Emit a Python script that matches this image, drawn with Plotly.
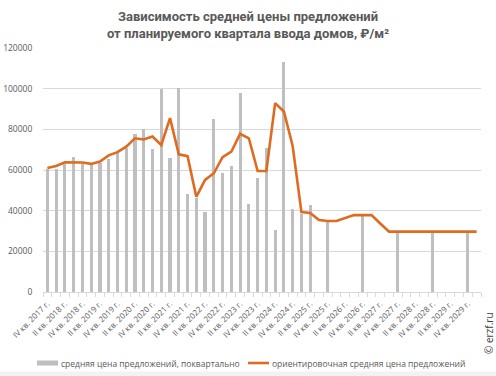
import plotly.graph_objects as go

roman = ["I", "II", "III", "IV"]
quarters = ["IV кв. 2017 г."]
for yr in range(2018, 2031):
    for q in roman:
        quarters.append(f"{q} кв. {yr} г.")
quarters = quarters[:50]  # IV 2017 .. I 2030

bar_values = [60500, 60500, 63000, 66600, 62800, 62400, 63500, 65600, 68200, 70700,
              77600, 80200, 70200, 99800, 65800, 100300, 48200, 46400, 39400, 85200,
              58700, 62100, 98100, 43200, 55900, 70900, 30300, 113000, 40600, 38300,
              42700, None, 34500, None, None, None, 37700, None, None, None,
              29100, None, None, None, 29100, None, None, None, 29100, None]

line_values = [61000, 62000, 63800, 63800, 63700, 63000, 64200, 67200, 68800, 71500,
               75600, 75000, 76500, 72300, 85500, 67700, 66800, 46800, 55100, 58400,
               66300, 69000, 77800, 75600, 59500, 59500, 92900, 88800, 71800, 39300,
               38900, 35400, 34900, 34900, 36200, 37800, 37800, 37800, 33700, 29700,
               29700, 29700, 29700, 29700, 29700, 29700, 29700, 29700, 29700, 29700]

tick_labels = quarters[0:49:2]
bar_name = "средняя цена предложений, поквартально"
line_name = "ориентировочная средняя цена предложений"

idx = list(range(len(quarters)))

BAR_COLOR = "#BFBFBF"
LINE_COLOR = "#DE6B1F"
grey = "#595959"

W_FIG, H_FIG = 496, 376
L, R, T, B = 43, 15, 48, 84
PW, PH = W_FIG - L - R, H_FIG - T - B


def px_x(p):
    return (p - L) / PW


def px_y(p):
    return (H_FIG - B - p) / PH


fig = go.Figure()
fig.add_trace(go.Bar(x=idx, y=bar_values, name=bar_name, width=0.36,
                     marker=dict(color=BAR_COLOR, line=dict(width=0)), showlegend=False))
fig.add_trace(go.Scatter(x=idx, y=line_values, name=line_name, mode="lines",
                         line=dict(color=LINE_COLOR, width=2.6), showlegend=False))

fig.update_layout(
    template="none",
    width=W_FIG, height=H_FIG,
    margin=dict(l=L, r=R, t=T, b=B, autoexpand=False),
    paper_bgcolor="white", plot_bgcolor="white",
    font=dict(family="Open Sans", color=grey, size=9),
    title=dict(text="<b>Зависимость средней цены предложений<br>от планируемого квартала ввода домов, ₽/м²</b>",
               x=0.5, xanchor="center", y=1 - 21 / H_FIG, yanchor="middle",
               font=dict(family="Roboto", size=13, color=grey)),
    showlegend=False,
    hovermode=False,
    bargap=0,
)
fig.update_xaxes(
    automargin=False,
    range=[-0.5, 49.5], tickmode="array", tickvals=idx[0:49:2], ticktext=tick_labels,
    tickangle=-45, tickfont=dict(size=8, color=grey, family="Open Sans"),
    ticks="", showgrid=False, zeroline=False, ticklabelstandoff=3,
    showline=True, linecolor="#D9D9D9", linewidth=1,
    minor=dict(ticks="outside", tick0=0.5, dtick=1, ticklen=4, tickcolor="#D9D9D9", showgrid=False),
)
fig.update_yaxes(
    automargin=False,
    range=[0, 120000], tickmode="linear", tick0=0, dtick=20000,
    showgrid=True, gridcolor="#D9D9D9", gridwidth=1, zeroline=False,
    tickfont=dict(size=8.5, color=grey, family="Open Sans"),
    ticks="outside", ticklen=8, tickcolor="rgba(0,0,0,0)",
    tickformat="d", showline=False,
)

# legend drawn manually
ly = 363
fig.add_shape(type="rect", xref="paper", yref="paper",
              x0=px_x(37), x1=px_x(58), y0=px_y(365.5), y1=px_y(360.5),
              fillcolor=BAR_COLOR, line=dict(width=0))
fig.add_annotation(text=bar_name, xref="paper", yref="paper", x=px_x(59), y=px_y(ly),
                   xanchor="left", yanchor="middle", showarrow=False,
                   font=dict(family="Open Sans", size=8.5, color=grey))
fig.add_shape(type="line", xref="paper", yref="paper",
              x0=px_x(248), x1=px_x(269), y0=px_y(ly), y1=px_y(ly),
              line=dict(color=LINE_COLOR, width=2.6))
fig.add_annotation(text=line_name, xref="paper", yref="paper", x=px_x(270), y=px_y(ly),
                   xanchor="left", yanchor="middle", showarrow=False,
                   font=dict(family="Open Sans", size=8.5, color=grey))

fig.add_annotation(text="© erzf.ru", xref="paper", yref="paper", x=px_x(489), y=px_y(333),
                   xanchor="center", yanchor="middle", textangle=-90, showarrow=False,
                   font=dict(family="Open Sans", size=10, color="#404040"))
fig.add_shape(type="rect", xref="paper", yref="paper", x0=px_x(0), x1=px_x(496),
              y0=px_y(376), y1=px_y(371.5), fillcolor="#F2F2F2", line=dict(width=0), layer="below")

fig.write_html("out.html", config={"displayModeBar": False, "staticPlot": True},
               post_script="document.body.style.margin='0px';document.body.style.overflow='hidden';")
